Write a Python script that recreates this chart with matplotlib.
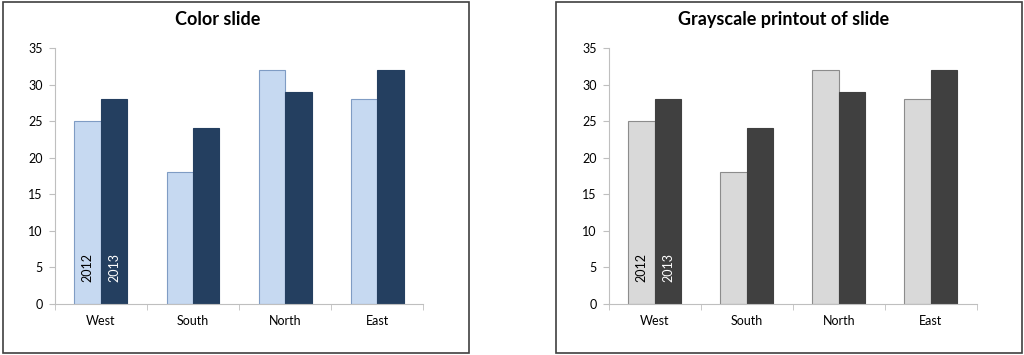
import numpy as np
import matplotlib.pyplot as plt
from matplotlib.patches import Rectangle

plt.rcParams['font.family'] = ['Lato', 'DejaVu Sans']

regions = ['West', 'South', 'North', 'East']
years = ['2012', '2013']
sales_2012 = [25, 18, 32, 28]
sales_2013 = [28, 24, 29, 32]
yticks = [0, 5, 10, 15, 20, 25, 30, 35]

panels = [
    # title, light colour, light edge, dark colour, box left, axes left, title x
    ("Color slide", '#c6d9f1', '#7f9cc4', '#243f60', 0.003, 0.0537, 0.2124),
    ("Grayscale printout of slide", '#d9d9d9', '#8c8c8c', '#404040', 0.543, 0.5947, 0.7651),
]

fig = plt.figure(figsize=(10.24, 3.55), dpi=100)

for title, c_light, e_light, c_dark, box_left, ax_left, title_x in panels:
    # black frame round each slide
    fig.add_artist(Rectangle((box_left, 0.006), 0.455, 0.988, transform=fig.transFigure,
                             fill=False, edgecolor='#404040', linewidth=1.2))
    fig.text(title_x, 0.945, title, ha='center', va='center',
             fontsize=13, fontweight='bold')

    ax = fig.add_axes([ax_left, 0.1437, 0.3594, 0.7211])
    x = np.arange(len(regions))
    w = 0.288
    ax.bar(x - w / 2, sales_2012, width=w, color=c_light, edgecolor=e_light, linewidth=0.8)
    ax.bar(x + w / 2, sales_2013, width=w, color=c_dark, edgecolor=c_dark, linewidth=0.8)

    ax.text(x[0] - w / 2, 3.0, years[0], rotation=90, ha='center', va='bottom',
            fontsize=9, color='black')
    ax.text(x[0] + w / 2, 3.0, years[1], rotation=90, ha='center', va='bottom',
            fontsize=9, color='white')

    ax.set_xlim(-0.5, len(regions) - 0.5)
    ax.set_ylim(0, 35)
    ax.set_yticks(yticks)
    ax.set_xticks(x)
    ax.set_xticklabels(regions)
    ax.set_xticks(np.arange(len(regions) + 1) - 0.5, minor=True)
    ax.tick_params(axis='x', which='major', length=0, pad=8, labelsize=9)
    ax.tick_params(axis='x', which='minor', length=4, color='#bfbfbf', direction='out')
    ax.tick_params(axis='y', length=4, color='#bfbfbf', labelsize=9, pad=5)

    for side in ['top', 'right']:
        ax.spines[side].set_visible(False)
    for side in ['left', 'bottom']:
        ax.spines[side].set_color('#bfbfbf')

fig.savefig('out.png', dpi=100)
